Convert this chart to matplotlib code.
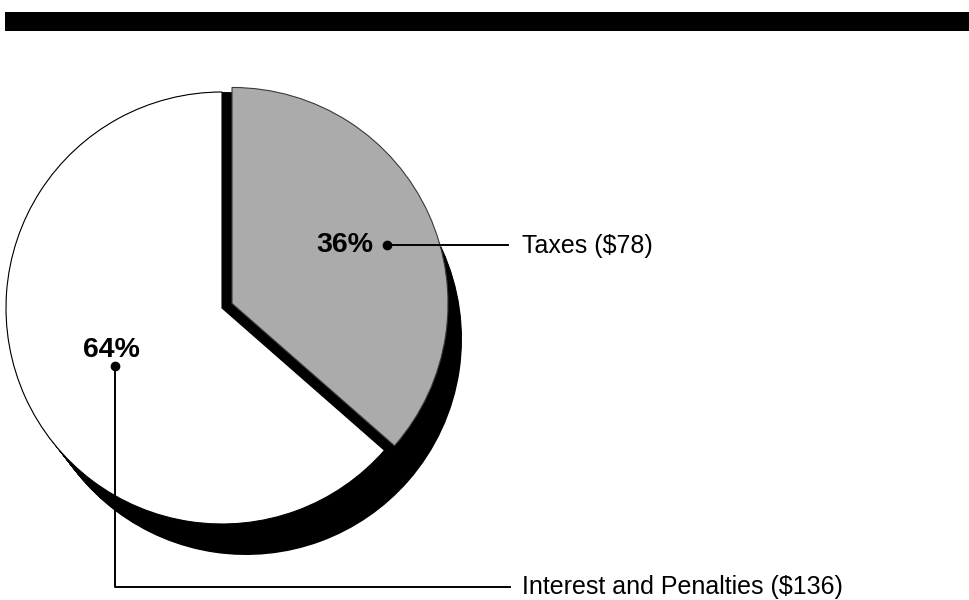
import numpy as np
import matplotlib.pyplot as plt
from matplotlib.patches import Wedge, Rectangle

plt.rcParams['font.family'] = ['Liberation Sans', 'DejaVu Sans']

# data
categories = ['Taxes', 'Interest and Penalties']
amounts = [78, 136]
colors = ['#ababab', 'white']

# layout (pixel units, y measured upward)
W, H = 969, 600
cx, cy = 222, 292          # pie centre
r = 216                    # pie radius
explode = [11, 0]          # how far each slice is pulled out
sx, sy = 24, -31           # shadow depth
steps = 40

fig = plt.figure(figsize=(W / 100, H / 100), dpi=100)
ax = fig.add_axes([0, 0, 1, 1])
ax.set_xlim(0, W)
ax.set_ylim(0, H)
ax.axis('off')

# black band at the top
ax.add_patch(Rectangle((5, H - 31), W - 5, 19, fc='black', ec='none'))

# slice angles, clockwise from 12 o'clock
fracs = np.array(amounts) / np.sum(amounts)
cum = np.concatenate([[0], np.cumsum(fracs)])
theta1 = 90 - 360 * cum[1:]
theta2 = 90 - 360 * cum[:-1]
mids = np.radians((theta1 + theta2) / 2)

# shadows: each slice swept down-right from its resting place
for i in range(len(amounts)):
    for t in np.linspace(0, 1, steps):
        ax.add_patch(Wedge((cx + t * sx, cy + t * sy), r, theta1[i], theta2[i],
                           fc='black', ec='none'))

# slice faces, white one first so the grey one sits on top
for i in [1, 0]:
    ox = explode[i] * np.cos(mids[i])
    oy = explode[i] * np.sin(mids[i])
    ec = 'black' if colors[i] == 'white' else '#3a3a3a'
    ax.add_patch(Wedge((cx + ox, cy + oy), r, theta1[i], theta2[i],
                       fc=colors[i], ec=ec, lw=0.8))

pcts = [f'{round(f * 100)}%' for f in fracs]
labels = [f'{c} (${a})' for c, a in zip(categories, amounts)]

# Taxes label
ax.text(373, H - 245, pcts[0], ha='right', va='center', fontsize=20.5,
        fontweight='bold')
ax.plot([387, 508], [H - 245, H - 245], color='black', lw=1.4)
ax.plot(387, H - 245, 'o', color='black', ms=6)
ax.text(522, H - 246, labels[0], ha='left', va='center', fontsize=18)

# Interest label
ax.text(111, H - 350, pcts[1], ha='center', va='center', fontsize=20.5,
        fontweight='bold')
ax.plot([115, 115, 510], [H - 366, H - 587, H - 587], color='black', lw=1.4)
ax.plot(115, H - 366, 'o', color='black', ms=6)
ax.text(522, H - 587, labels[1], ha='left', va='center', fontsize=18)

fig.savefig('out.png', dpi=100)
